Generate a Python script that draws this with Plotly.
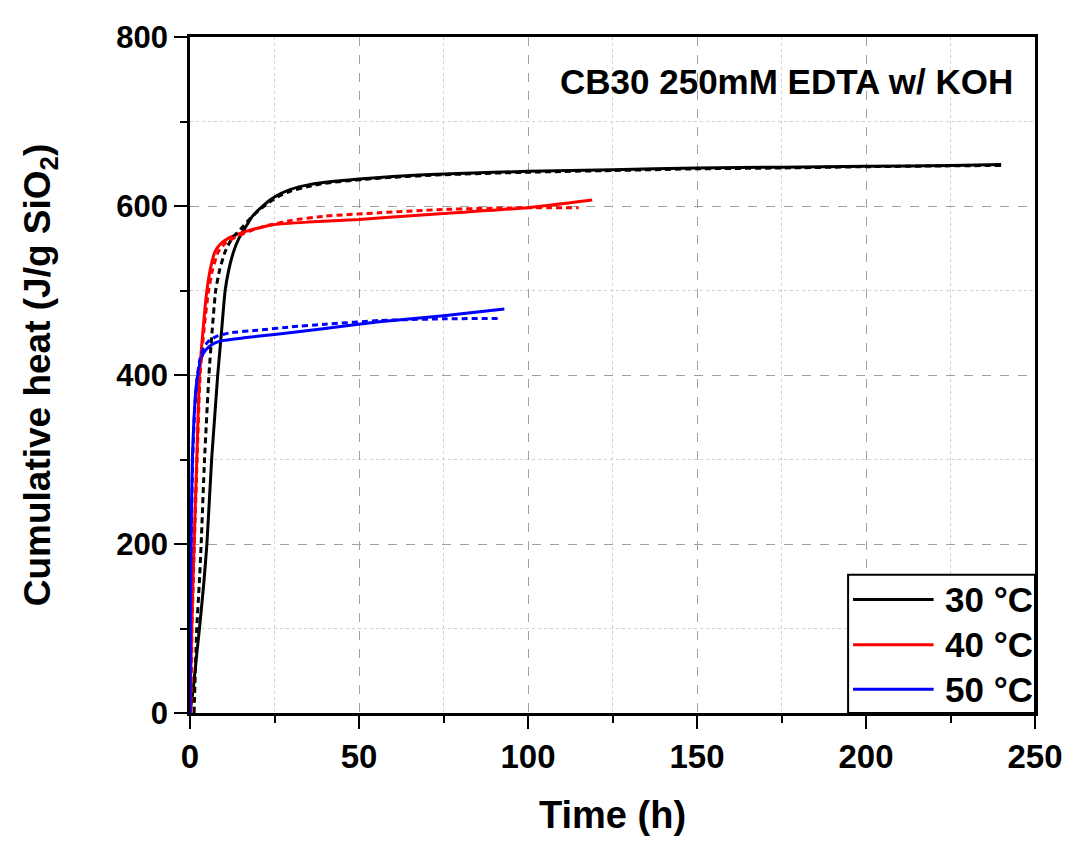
import plotly.graph_objects as go

# 30 °C measured / fit
t30 = [0, 1, 2, 2.8, 4, 5, 6.4, 7.3, 8.2, 9.3, 10.4, 11.5, 12.9, 14.5, 16.3, 18.5, 21, 24, 27, 30, 35, 40, 50, 60, 75, 100, 125, 150, 175, 200, 225, 240]
q30 = [0, 30, 70, 100, 150, 200, 300, 350, 400, 450, 500, 525, 546, 562, 574, 588, 598, 608, 615, 620, 625, 628, 632, 635, 638, 641, 643, 645, 646, 647, 648, 649]
t30f = [1.2, 2, 2.7, 3.3, 4.3, 5.6, 6.5, 7.6, 8.8, 10.4, 12.5, 15.3, 18, 21, 24, 27, 30, 35, 40, 50, 60, 75, 100, 125, 150, 175, 200, 225, 240]
q30f = [0, 100, 150, 200, 300, 400, 450, 500, 525, 546, 562, 574, 586, 597, 606, 613, 618, 623, 627, 631, 634, 637, 640, 642, 644, 645, 646.5, 647.5, 648]

# 40 °C
t40 = [0, 0.5, 1.2, 2, 2.8, 4, 5, 6, 7.4, 9, 11.4, 15, 18.3, 25, 35, 50, 60, 75, 100, 119]
q40 = [0, 100, 200, 300, 400, 460, 500, 525, 546, 555, 562, 568, 572, 578, 581, 584, 587, 591, 598, 607]
t40f = [0.3, 0.6, 1.3, 2.1, 3, 4.3, 5.5, 6.7, 8.4, 10.5, 13.5, 17.5, 22, 30, 40, 56, 75, 100, 115]
q40f = [0, 100, 200, 300, 400, 460, 500, 525, 546, 556, 563, 570, 576, 583, 588, 592, 596, 598, 598]

# 50 °C
t50 = [0, 0.1, 0.3, 0.7, 1.2, 1.8, 2.5, 3.2, 4, 5.5, 7.4, 10, 16, 25, 40, 56, 75, 93]
q50 = [0, 100, 200, 300, 350, 385, 405, 418, 426, 433, 438, 441, 444, 448, 455, 463, 470, 478]
t50f = [0, 0.15, 0.35, 0.8, 1.4, 2.2, 3, 4, 5.5, 8, 12, 20, 30, 40, 56, 75, 92]
q50f = [0, 100, 200, 300, 360, 400, 420, 432, 440, 446, 450, 453, 457, 460, 464.5, 466.5, 467]

labels = ["30 °C", "40 °C", "50 °C"]
colors = ["#000000", "#ff0000", "#0000ff"]

fig = go.Figure()
meas = [(t30, q30), (t40, q40), (t50, q50)]
fits = [(t30f, q30f), (t40f, q40f), (t50f, q50f)]
for (t, q), lab, c in zip(meas, labels, colors):
    fig.add_trace(go.Scatter(x=t, y=q, mode="lines", name=lab, showlegend=False,
                             line=dict(color=c, width=3, shape="spline", smoothing=0.5)))
for (t, q), lab, c in zip(fits, labels, colors):
    fig.add_trace(go.Scatter(x=t, y=q, mode="lines", name=lab + " fit", showlegend=False,
                             line=dict(color=c, width=3, dash="6px,4px", shape="spline", smoothing=0.5)))

font_fam = "Liberation Sans, Arial, sans-serif"
axis_common = dict(
    showline=True, linecolor="black", linewidth=2.5, mirror=True,
    ticks="outside", ticklen=13, tickwidth=2, tickcolor="black",
    showgrid=True, gridcolor="#a0a0a0", griddash="dash", gridwidth=1,
    zeroline=False,
)

# manual legend (box, line samples, labels) in paper coordinates
leg_y = [0.168, 0.101, 0.035]
shapes = [dict(type="rect", xref="paper", yref="paper", x0=0.7788, x1=1.0, y0=0.0, y1=0.2044,
               line=dict(color="black", width=2), fillcolor="white", layer="above")]
annotations = []
for lab, c, yy in zip(labels, colors, leg_y):
    shapes.append(dict(type="line", xref="paper", yref="paper", x0=0.7847, x1=0.88, y0=yy, y1=yy,
                       line=dict(color=c, width=3), layer="above"))
    annotations.append(dict(text="<b>" + lab + "</b>", x=0.8906, y=yy, xref="paper", yref="paper",
                            xanchor="left", yanchor="middle", showarrow=False,
                            font=dict(family=font_fam, size=35, color="black")))
annotations.append(dict(text="<b>CB30 250mM EDTA w/ KOH</b>", x=0.9765, y=0.934, xref="paper", yref="paper",
                        xanchor="right", yanchor="middle", showarrow=False,
                        font=dict(family=font_fam, size=35, color="black")))

fig.update_layout(
    width=1067, height=834,
    paper_bgcolor="white", plot_bgcolor="white",
    margin=dict(l=182, r=35, t=24, b=125),
    font=dict(family=font_fam, color="black"),
    showlegend=False,
    xaxis=dict(range=[0, 250], dtick=50, tick0=0,
               tickfont=dict(family=font_fam, size=33, color="black", weight="bold"),
               title=dict(text="<b>Time (h)</b>", font=dict(family=font_fam, size=38), standoff=28),
               minor=dict(dtick=25, ticks="outside", ticklen=7, tickwidth=2, tickcolor="black",
                          showgrid=True, gridcolor="#d0d0d0", griddash="dot", gridwidth=1),
               **axis_common),
    yaxis=dict(range=[0, 800], dtick=200, tick0=0,
               tickfont=dict(family=font_fam, size=31, color="black", weight="bold"),
               title=dict(text="<b>Cumulative heat (J/g SiO<sub>2</sub>)</b>", font=dict(family=font_fam, size=37), standoff=55),
               minor=dict(dtick=100, ticks="outside", ticklen=7, tickwidth=2, tickcolor="black",
                          showgrid=True, gridcolor="#d0d0d0", griddash="dot", gridwidth=1),
               **axis_common),
    shapes=shapes,
    annotations=annotations,
)

fig.write_html("out.html")
